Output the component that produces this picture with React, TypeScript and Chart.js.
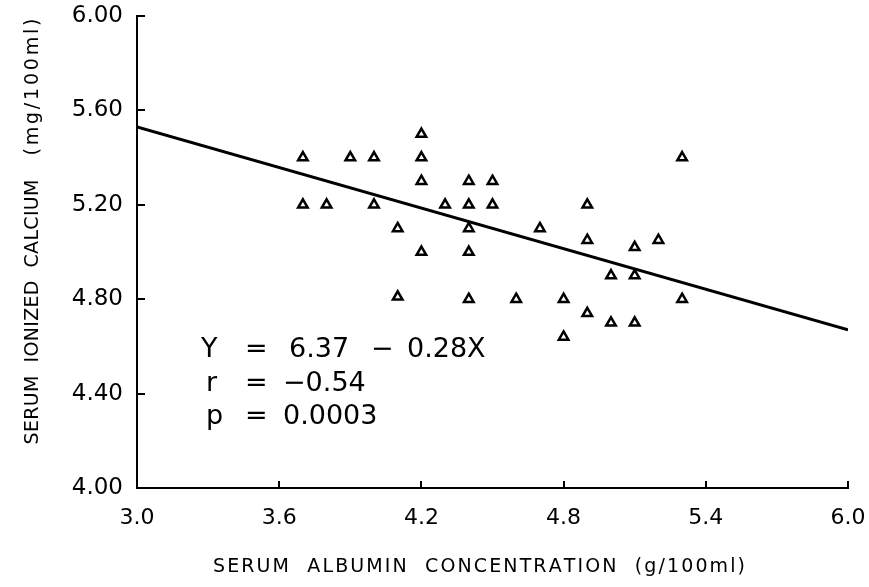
import React, { useEffect, useRef } from 'react';
import { Chart, registerables } from 'chart.js';

Chart.register(...registerables);

// ---- data ----
const albumin = [
  3.7, 3.7, 3.8, 3.9, 4.0, 4.0, 4.1, 4.1, 4.2, 4.2, 4.2, 4.2, 4.3,
  4.4, 4.4, 4.4, 4.4, 4.4, 4.5, 4.5, 4.6, 4.7, 4.8, 4.8, 4.9, 4.9, 4.9,
  5.0, 5.0, 5.1, 5.1, 5.1, 5.2, 5.3, 5.3,
];
const calcium = [
  5.40, 5.20, 5.20, 5.40, 5.40, 5.20, 5.10, 4.81, 5.50, 5.40, 5.30, 5.00, 5.20,
  5.30, 5.20, 5.10, 5.00, 4.80, 5.30, 5.20, 4.80, 5.10, 4.80, 4.64, 5.20, 5.05, 4.74,
  4.90, 4.70, 5.02, 4.90, 4.70, 5.05, 5.40, 4.80,
];
const fitX = [3.0, 6.0];
const fitY = [5.53, 4.67];
const xTickValues = [3.0, 3.6, 4.2, 4.8, 5.4, 6.0];
const yTickValues = [4.0, 4.4, 4.8, 5.2, 5.6, 6.0];
const xTitle = 'SERUM  ALBUMIN  CONCENTRATION  (g/100ml)';
const yTitleMain = 'SERUM  IONIZED  CALCIUM';
const yTitleUnit = '(mg/100ml)';
const statLine1 = ['Y', '=', '6.37', '\u2212', '0.28X'];
const statLine2 = ['r', '=', '\u22120.54'];
const statLine3 = ['p', '=', '0.0003'];

const FONT = '"DejaVu Sans", sans-serif';

function spacedText(ctx: CanvasRenderingContext2D, text: string, cx: number, y: number, width: number) {
  const chars = Array.from(text);
  const widths = chars.map((c) => ctx.measureText(c).width);
  const total = widths.reduce((a, b) => a + b, 0);
  const gap = chars.length > 1 ? (width - total) / (chars.length - 1) : 0;
  let x = cx - width / 2;
  ctx.textAlign = 'left';
  chars.forEach((c, i) => {
    ctx.fillText(c, x, y);
    x += widths[i] + gap;
  });
}

const decorPlugin = {
  id: 'decor',
  afterDraw(chart: any) {
    const { ctx, chartArea, scales } = chart;
    ctx.save();
    // inward tick marks
    ctx.strokeStyle = '#000';
    ctx.lineWidth = 2;
    ctx.beginPath();
    xTickValues.forEach((v) => {
      if (v === xTickValues[0]) return;
      const px = Math.round(scales.x.getPixelForValue(v));
      ctx.moveTo(px, chartArea.bottom);
      ctx.lineTo(px, chartArea.bottom - 7);
    });
    yTickValues.forEach((v) => {
      if (v === yTickValues[0]) return;
      const py = Math.round(scales.y.getPixelForValue(v));
      ctx.moveTo(chartArea.left, py);
      ctx.lineTo(chartArea.left + 8, py);
    });
    ctx.stroke();

    ctx.fillStyle = '#000';
    ctx.textBaseline = 'middle';
    // x title
    ctx.font = `19px ${FONT}`;
    spacedText(ctx, xTitle, 479, 567, 532);
    // y title (rotated)
    ctx.save();
    ctx.translate(33, 312);
    ctx.rotate(-Math.PI / 2);
    spacedText(ctx, yTitleMain, 0, 0, 265);
    ctx.restore();
    ctx.save();
    ctx.translate(33, 87);
    ctx.rotate(-Math.PI / 2);
    spacedText(ctx, yTitleUnit, 0, 0, 137);
    ctx.restore();

    // regression statistics
    ctx.font = `27px ${FONT}`;
    ctx.textBaseline = 'alphabetic';
    ctx.textAlign = 'left';
    const l1x = [201, 245, 289, 371, 407];
    statLine1.forEach((s, i) => ctx.fillText(s, l1x[i], 357));
    const l2x = [206, 245, 283];
    statLine2.forEach((s, i) => ctx.fillText(s, l2x[i], 391));
    statLine3.forEach((s, i) => ctx.fillText(s, l2x[i], 424));
    ctx.restore();
  },
};

export default function App() {
  const ref = useRef<HTMLCanvasElement>(null);
  useEffect(() => {
    if (!ref.current) return;
    const chart = new Chart(ref.current, {
      type: 'scatter',
      data: {
        datasets: [
          {
            type: 'scatter',
            data: albumin.map((x, i) => ({ x, y: calcium[i] })),
            pointStyle: 'triangle',
            pointRadius: 5.5,
            borderWidth: 2.5,
            borderColor: '#000',
            backgroundColor: '#fff',
            order: 1,
          },
          {
            type: 'line',
            data: fitX.map((x, i) => ({ x, y: fitY[i] })),
            borderColor: '#000',
            borderWidth: 3,
            pointRadius: 0,
            fill: false,
            order: 2,
          } as any,
        ],
      },
      options: {
        responsive: false,
        animation: false,
        devicePixelRatio: 1,
        layout: { padding: { top: 16, right: 21, left: 0, bottom: 0 } },
        plugins: { legend: { display: false }, tooltip: { enabled: false } },
        scales: {
          x: {
            type: 'linear',
            min: 3,
            max: 6,
            afterBuildTicks: (s: any) => {
              s.ticks = xTickValues.map((v) => ({ value: v }));
            },
            afterFit: (s: any) => {
              s.height = 99;
              s.paddingLeft = 0;
              s.paddingRight = 0;
            },
            ticks: {
              callback: (v: any) => Number(v).toFixed(1),
              font: { family: FONT, size: 22 },
              color: '#000',
              padding: 17,
              maxRotation: 0,
              autoSkip: false,
            },
            grid: { drawOnChartArea: false, drawTicks: false },
            border: { display: true, color: '#000', width: 2 },
          },
          y: {
            type: 'linear',
            min: 4,
            max: 6,
            afterBuildTicks: (s: any) => {
              s.ticks = yTickValues.map((v) => ({ value: v }));
            },
            afterFit: (s: any) => {
              s.width = 137;
              s.paddingTop = 0;
              s.paddingBottom = 0;
            },
            ticks: {
              callback: (v: any) => Number(v).toFixed(2),
              font: { family: FONT, size: 23 },
              color: '#000',
              padding: 14,
              autoSkip: false,
            },
            grid: { drawOnChartArea: false, drawTicks: false },
            border: { display: true, color: '#000', width: 2 },
          },
        },
      },
      plugins: [decorPlugin],
    });
    return () => chart.destroy();
  }, []);
  return (
    <div style={{ position: 'absolute', left: 0, top: 0, width: 869, height: 587, background: '#fff' }}>
      <canvas ref={ref} width={869} height={587} style={{ display: 'block', width: 869, height: 587 }} />
    </div>
  );
}
